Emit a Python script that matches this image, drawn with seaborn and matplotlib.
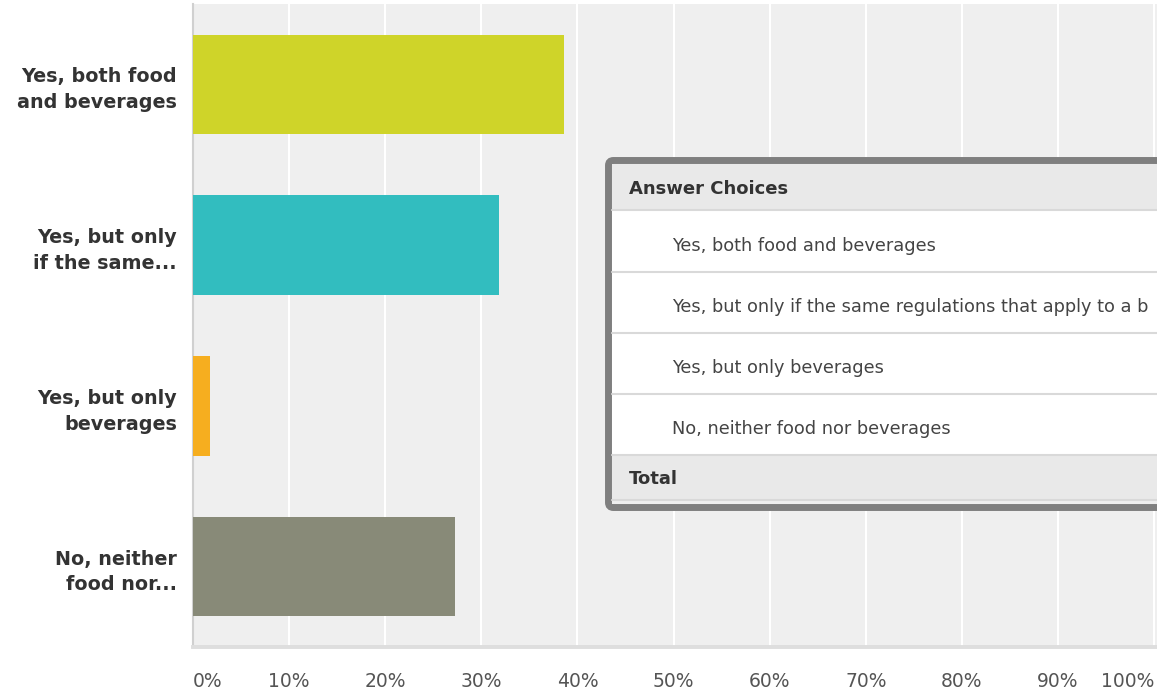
import matplotlib
matplotlib.use('Agg')
import matplotlib.pyplot as plt
from matplotlib.patches import Rectangle, FancyBboxPatch
from matplotlib.lines import Line2D
from matplotlib.transforms import IdentityTransform
import seaborn as sns
import pandas as pd

# 데이터
short_labels = ['Yes, both food\nand beverages', 'Yes, but only\nif the same...',
                'Yes, but only\nbeverages', 'No, neither\nfood nor...']
answer_choices = ['Yes, both food and beverages',
                  'Yes, but only if the same regulations that apply to a b',
                  'Yes, but only beverages',
                  'No, neither food nor beverages']
percent = [38.6, 31.8, 1.8, 27.3]
bar_colors = ['#cfd429', '#32bdbf', '#f6ae1f', '#888a78']
x_ticks = [0, 10, 20, 30, 40, 50, 60, 70, 80, 90, 100]

df = pd.DataFrame({'label': short_labels, 'pct': percent})

W, H = 1157, 695
sns.set_style('white')
plt.rcParams['font.family'] = ['DejaVu Sans']

fig = plt.figure(figsize=(W / 100, H / 100), dpi=100)
ax = fig.add_axes([193 / W, (H - 647) / H, (W - 193) / W, (647 - 4) / H])
ax.set_facecolor('#efefef')

sns.barplot(data=df, x='pct', y='label', hue='label', palette=bar_colors,
            legend=False, width=0.62, orient='h', saturation=1,
            linewidth=0, edgecolor='none', ax=ax, zorder=3)

ax.set_xlim(0, 100.3)
ax.set_ylim(3.5, -0.5)
ax.set_xticks(x_ticks)
ax.set_xticklabels([f'{t}%' for t in x_ticks])
ax.set_xlabel('')
ax.set_ylabel('')
ax.grid(axis='x', color='white', linewidth=1.5, zorder=1)
ax.set_axisbelow(True)

for s in ['top', 'right']:
    ax.spines[s].set_visible(False)
ax.spines['left'].set_color('#d0d0d0')
ax.spines['left'].set_linewidth(1.5)
ax.spines['bottom'].set_color('#dedede')
ax.spines['bottom'].set_linewidth(2.8)

ax.tick_params(axis='x', length=0, pad=18, labelsize=13.5, labelcolor='#555555')
ax.tick_params(axis='y', length=0, pad=11.5, labelsize=13.8, labelcolor='#333333')
for lbl in ax.get_yticklabels():
    lbl.set_fontweight('bold')
    lbl.set_linespacing(1.45)
xl = ax.get_xticklabels()
xl[0].set_ha('left')
xl[-1].set_ha('right')

# 답변 표 (오른쪽 위에 겹쳐진 상자)
T = IdentityTransform()


def py(y):
    return H - y


def add(artist):
    artist.set_transform(T)
    artist.set_zorder(5)
    fig.add_artist(artist)


add(FancyBboxPatch((608.5, py(507.5)), 700, 347,
                   boxstyle='round,pad=0,rounding_size=5',
                   facecolor='white', edgecolor='#7f7f7f', linewidth=5.0))
add(Rectangle((612, py(210)), 600, 46, facecolor='#e9e9e9', edgecolor='none'))
add(Rectangle((612, py(500)), 600, 45, facecolor='#e9e9e9', edgecolor='none'))
add(Rectangle((612, py(504)), 600, 4, facecolor='#eeeeee', edgecolor='none'))
for yy in [210, 272, 333, 394, 455, 500]:
    add(Line2D([612, W], [py(yy), py(yy)], color='#d9d9d9', linewidth=1.5))

fig.text(629 / W, 1 - 194 / H, 'Answer Choices', fontsize=13, fontweight='bold',
         color='#333333', va='baseline', ha='left', zorder=6)
for txt, yb in zip(answer_choices, [251, 312, 373, 434]):
    fig.text(672 / W, 1 - yb / H, txt, fontsize=12.8, color='#444444',
             va='baseline', ha='left', zorder=6)
fig.text(629 / W, 1 - 484 / H, 'Total', fontsize=13, fontweight='bold',
         color='#333333', va='baseline', ha='left', zorder=6)

fig.savefig('out.png', dpi=100)
